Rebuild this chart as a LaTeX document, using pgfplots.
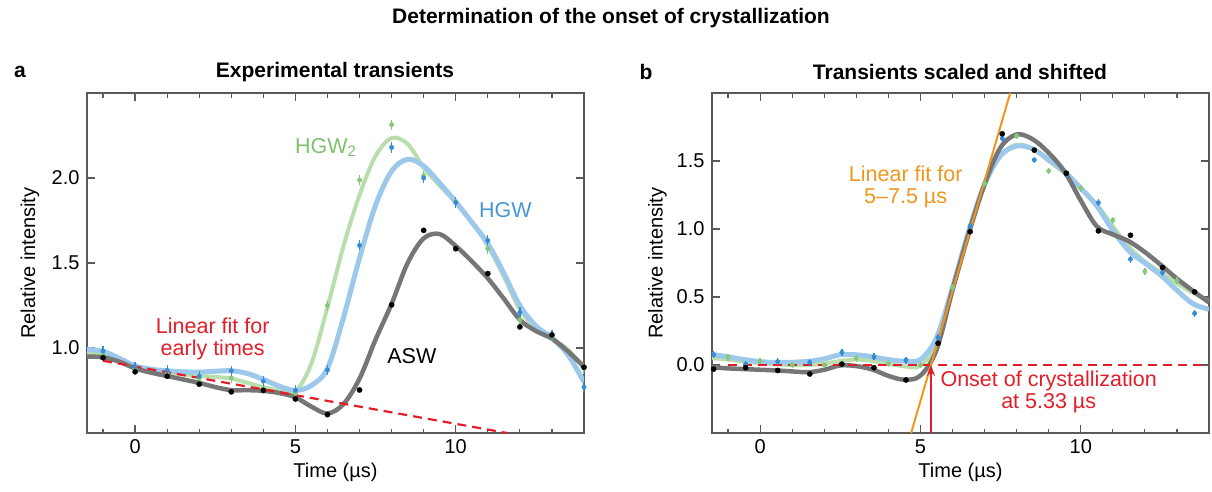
\documentclass[border=0pt]{standalone}
\usepackage{fontspec}
\setmainfont{Liberation Sans}
\usepackage{pgfplots}
\pgfplotsset{compat=1.18}
\usetikzlibrary{arrows.meta}

\definecolor{cgreenline}{RGB}{185,222,172}
\definecolor{cgreenpt}{RGB}{135,200,120}
\definecolor{cgreentxt}{RGB}{125,192,110}
\definecolor{cblueline}{RGB}{155,200,235}
\definecolor{cbluept}{RGB}{55,140,212}
\definecolor{cbluetxt}{RGB}{70,150,215}
\definecolor{cgray}{RGB}{118,118,118}
\definecolor{cred}{RGB}{226,30,42}
\definecolor{corange}{RGB}{240,150,30}
\definecolor{caxis}{RGB}{90,90,90}

\newcommand{\fs}{\fontsize{20}{23}\selectfont}
\newcommand{\ft}{\fontsize{21}{24}\selectfont}
\newcommand{\fa}{\fontsize{21.5}{24}\selectfont}

\pgfplotsset{
  myaxis/.style={
    scale only axis, width=497pt, height=340pt,
    xmin=-1.5, xmax=14,
    xtick={0,5,10}, xticklabels={0,5,10},
    minor xtick={-1,1,2,3,4,6,7,8,9,11,12,13},
    tick align=inside,
    major tick length=8pt, minor tick length=4.5pt,
    axis line style={draw=caxis, line width=1.3pt},
    every tick/.style={caxis, line width=1.2pt},
    tick label style={font=\fs},
    label style={font=\fs},
    xticklabel style={yshift=-3pt},
    yticklabel style={xshift=-4pt},
    xlabel={Time (µs)},
    ylabel={Relative intensity},
    xlabel style={at={(axis description cs:0.5,-0.115)}, anchor=center},
    ylabel style={anchor=center},
  },
  curve/.style={smooth, tension=0.55, no marks, line width=#1},
  pts/.style={only marks, mark=*, mark size=#1},
}

\begin{document}
\begin{tikzpicture}
\useasboundingbox (0,0) rectangle (1212pt,-492pt);

\node[font=\bfseries\ft] at (611pt,-18pt) {Determination of the onset of crystallization};
\node[font=\bfseries\ft] at (20pt,-72pt) {a};
\node[font=\bfseries\ft] at (335pt,-72pt) {Experimental transients};
\node[font=\bfseries\ft] at (646pt,-72pt) {b};
\node[font=\bfseries\ft] at (960pt,-72pt) {Transients scaled and shifted};

% ---------------- panel a ----------------
\begin{axis}[myaxis, at={(87pt,-433pt)}, anchor=south west,
  ymin=0.5, ymax=2.5, ytick={1,1.5,2}, yticklabels={1.0,1.5,2.0},
  ylabel style={at={(axis description cs:-0.115,0.5)}}]

% HGW2 fit
\addplot[curve=4pt, cgreenline] coordinates {
(-1.5,0.97) (-1,0.955) (-0.5,0.925) (0,0.89) (0.5,0.865) (1,0.855) (1.5,0.845)
(2,0.835) (2.5,0.83) (3,0.82) (3.5,0.795) (4,0.77) (4.5,0.75) (5,0.745)
(5.5,0.91) (6,1.24) (6.5,1.6) (7,1.9) (7.5,2.13) (8,2.235) (8.5,2.2) (9,2.06)
(9.5,1.955) (10,1.855) (10.5,1.74) (11,1.6) (11.5,1.42) (12,1.225) (12.5,1.115)
(13,1.055) (13.5,0.99) (14,0.88)};
% HGW fit
\addplot[curve=5pt, cblueline] coordinates {
(-1.5,0.992) (-1,0.98) (-0.5,0.94) (0,0.895) (0.5,0.875) (1,0.866) (1.5,0.86)
(2,0.858) (2.5,0.863) (3,0.866) (3.5,0.85) (4,0.815) (4.5,0.775) (5,0.75)
(5.5,0.78) (6,0.88) (6.5,1.18) (7,1.53) (7.5,1.84) (8,2.04) (8.5,2.11) (9,2.07)
(9.5,1.97) (10,1.86) (10.5,1.74) (11,1.615) (11.5,1.44) (12,1.25) (12.5,1.13)
(13,1.06) (13.5,0.96) (14,0.8)};
% ASW fit
\addplot[curve=4.5pt, cgray] coordinates {
(-1.5,0.95) (-1,0.945) (-0.5,0.92) (0,0.88) (0.5,0.855) (1,0.835) (1.5,0.815)
(2,0.795) (2.5,0.77) (3,0.752) (3.5,0.752) (4,0.748) (4.5,0.735) (5,0.71)
(5.5,0.655) (6,0.615) (6.5,0.67) (7,0.82) (7.5,1.05) (8,1.26) (8.5,1.5)
(9,1.645) (9.5,1.67) (10,1.6) (10.5,1.51) (11,1.41) (11.5,1.29) (12,1.166)
(12.5,1.1) (13,1.055) (13.5,0.98) (14,0.89)};

% linear fit
\addplot[cred, line width=2.2pt, dash pattern=on 9pt off 6pt] coordinates {(-1,0.925) (11.6,0.5)};

% data points
\addplot[pts=2.2pt, cgreenpt, error bars/.cd, y dir=both, y fixed=0.03, error mark=none,
  error bar style={line width=1.3pt}] coordinates {
(-1,0.96) (0,0.88) (1,0.85) (2,0.82) (3,0.824) (4,0.761) (5,0.733) (6,1.25)
(7,1.988) (8,2.314) (9,2.014) (10,1.86) (11,1.584) (12,1.166) (13,1.07) (14,0.88)};
\addplot[pts=2.2pt, cbluept, error bars/.cd, y dir=both, y fixed=0.03, error mark=none,
  error bar style={line width=1.3pt}] coordinates {
(-1,0.982) (0,0.89) (1,0.868) (2,0.834) (3,0.866) (4,0.805) (5,0.751) (6,0.87)
(7,1.604) (8,2.18) (9,2.0) (10,1.856) (11,1.633) (12,1.209) (13,1.077) (14,0.77)};
\addplot[pts=2.6pt, black] coordinates {
(-1,0.943) (0,0.86) (1,0.834) (2,0.787) (3,0.742) (4,0.751) (5,0.70) (6,0.608)
(7,0.753) (8,1.254) (9,1.692) (10,1.584) (11,1.438) (12,1.124) (13,1.077) (14,0.887)};

\node[font=\fa, cgreentxt] at (axis cs:5.95,2.18) {HGW\textsubscript{2}};
\node[font=\fa, cbluetxt] at (axis cs:11.55,1.81) {HGW};
\node[font=\fa, black] at (axis cs:8.63,0.95) {ASW};
\node[font=\fa, cred, align=center, inner sep=0pt] at (axis cs:2.42,1.053)
  {Linear fit for\\[-2pt]early times};
\end{axis}

% ---------------- panel b ----------------
\begin{axis}[myaxis, at={(712pt,-433pt)}, anchor=south west,
  ymin=-0.5, ymax=2.0, ytick={0,0.5,1,1.5}, yticklabels={0.0,0.5,1.0,1.5},
  ylabel style={at={(axis description cs:-0.11,0.5)}}]

\addplot[curve=4pt, cgreenline] coordinates {
(-1.5,0.05) (-1,0.04) (-0.5,0.025) (0,0.015) (0.5,0.005) (1,0.0) (1.5,0.0)
(2,0.01) (2.5,0.03) (3,0.04) (3.5,0.03) (4,0.01) (4.5,-0.01) (5,-0.005)
(5.5,0.16) (6,0.56) (6.5,0.97) (7,1.32) (7.5,1.54) (8,1.62) (8.5,1.59) (9,1.5)
(9.5,1.41) (10,1.3) (10.5,1.18) (11,1.02) (11.5,0.87) (12,0.76) (12.5,0.68)
(13,0.6) (13.5,0.53) (14,0.47)};
\addplot[curve=5pt, cblueline] coordinates {
(-1.5,0.078) (-1,0.06) (-0.5,0.04) (0,0.025) (0.5,0.018) (1,0.02) (1.5,0.027)
(2,0.045) (2.5,0.075) (3,0.075) (3.5,0.06) (4,0.04) (4.5,0.028) (5,0.04)
(5.5,0.2) (6,0.57) (6.5,0.98) (7,1.33) (7.5,1.54) (8,1.61) (8.5,1.59) (9,1.51)
(9.5,1.42) (10,1.3) (10.5,1.17) (11,0.99) (11.5,0.84) (12,0.75) (12.5,0.66)
(13,0.55) (13.5,0.45) (14,0.41)};
\addplot[curve=4.5pt, cgray] coordinates {
(-1.5,-0.017) (-1,-0.025) (-0.5,-0.03) (0,-0.035) (0.5,-0.04) (1,-0.047) (1.5,-0.053)
(2,-0.035) (2.5,-0.003) (3,-0.008) (3.5,-0.033) (4,-0.08) (4.5,-0.108) (5,-0.078)
(5.5,0.11) (6,0.55) (6.5,0.96) (7,1.33) (7.5,1.6) (8,1.695) (8.5,1.66) (9,1.56)
(9.5,1.42) (10,1.21) (10.5,1.02) (11,0.96) (11.5,0.91) (12,0.83) (12.5,0.735)
(13,0.635) (13.5,0.545) (14,0.46)};

\addplot[cred, line width=2.2pt, dash pattern=on 9pt off 6pt] coordinates {(-1,0) (14,0)};
\addplot[corange, line width=2pt] coordinates {(4.71,-0.5) (7.80,2.0)};
\addplot[cred, line width=2pt, -{Stealth[length=11pt, width=8pt]}] coordinates {(5.33,-0.5) (5.33,0)};

\addplot[pts=2.2pt, cgreenpt, error bars/.cd, y dir=both, y fixed=0.025, error mark=none,
  error bar style={line width=1.3pt}] coordinates {
(-1,0.058) (0,0.03) (1,0.0) (2,0.0) (3,0.05) (4,0.01) (5,0.0) (6,0.57)
(7,1.334) (8,1.684) (9,1.427) (10,1.30) (11,1.065) (12,0.688) (13,0.62)};
\addplot[pts=2.2pt, cbluept, error bars/.cd, y dir=both, y fixed=0.025, error mark=none,
  error bar style={line width=1.3pt}] coordinates {
(-1.45,0.076) (-0.45,0.007) (0.55,0.025) (1.55,0.02) (2.55,0.093) (3.55,0.06)
(4.55,0.036) (5.55,0.2) (6.55,1.02) (7.55,1.667) (8.55,1.508) (9.55,1.40)
(10.55,1.194) (11.55,0.778) (12.55,0.68) (13.55,0.38)};
\addplot[pts=2.6pt, black] coordinates {
(-1.45,-0.03) (-0.45,-0.02) (0.55,-0.04) (1.55,-0.066) (2.55,0.007) (3.55,-0.02)
(4.55,-0.11) (5.55,0.16) (6.55,0.98) (7.55,1.70) (8.55,1.58) (9.55,1.41)
(10.55,0.986) (11.55,0.954) (12.55,0.717) (13.55,0.538)};

\node[font=\fa, corange, align=center, inner sep=0pt] at (axis cs:4.54,1.31)
  {Linear fit for\\[-2pt]5–7.5 µs};
\node[font=\fa, cred, align=center, inner sep=0pt] at (axis cs:9.0,-0.2)
  {Onset of crystallization\\[-2pt]at 5.33 µs};
\end{axis}
\end{tikzpicture}
\end{document}
